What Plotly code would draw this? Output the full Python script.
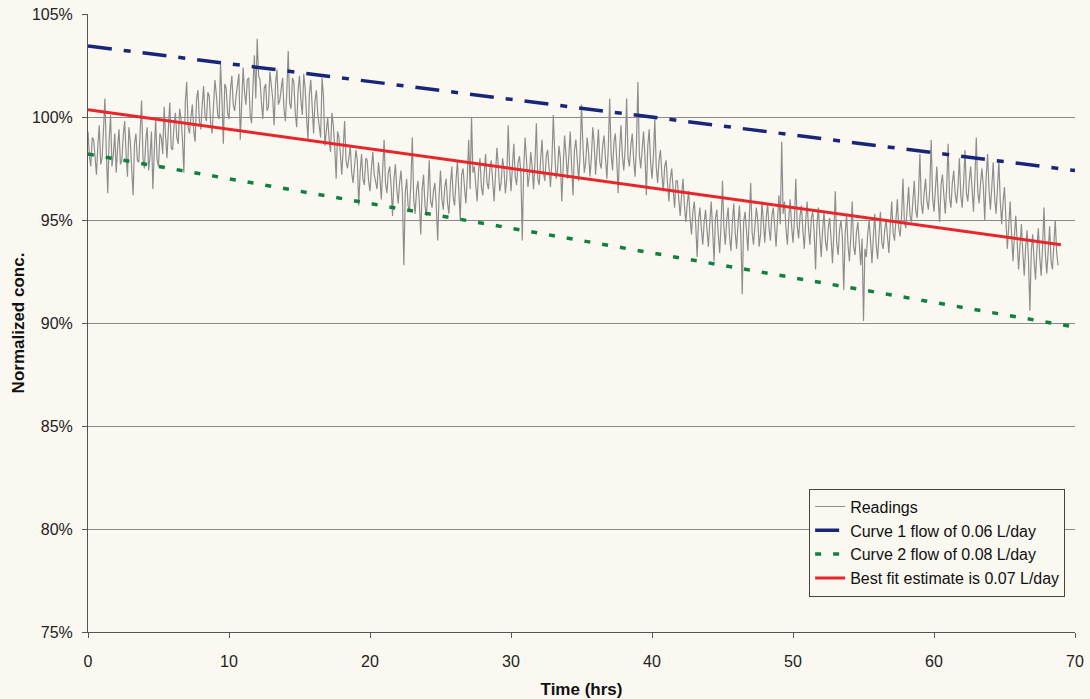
import plotly.graph_objects as go

# ---------------- data ----------------
reading_step = 0.2  # hours between readings (main samples at 0.0, 0.2, ...)
readings = [
    99.3, 97.6, 98.9, 97.2, 99.6, 98.0, 100.9, 96.3, 100.1, 98.2,
    97.3, 99.4, 97.9, 99.8, 97.1, 98.8, 96.2, 99.2, 97.8, 100.8,
    97.5, 99.5, 98.1, 96.5, 99.9, 97.6, 99.0, 100.5, 98.0, 100.7,
    98.4, 100.2, 98.7, 99.9, 97.3, 101.7, 99.2, 100.6, 98.8, 101.3,
    99.4, 101.5, 99.8, 101.0, 99.2, 101.8, 100.1, 102.6, 98.7, 101.4,
    99.9, 102.0, 100.3, 101.6, 98.9, 102.4, 100.6, 101.9, 99.7, 103.0,
    103.8, 101.8, 99.9, 101.6, 100.5, 101.5, 99.6, 102.3, 100.8, 101.9,
    99.8, 103.2, 100.4, 101.7, 99.5, 102.0, 100.1, 101.4, 98.9, 101.8,
    99.2, 101.3, 99.6, 101.9, 98.6, 100.0, 98.3, 99.6, 97.0, 99.0,
    97.2, 99.8, 97.5, 98.6, 96.8, 98.4, 95.7, 98.2, 96.7, 97.9,
    96.4, 98.3, 96.9, 97.8, 96.0, 98.9, 96.3, 97.6, 95.2, 97.7,
    95.8, 97.4, 92.8, 97.0, 95.4, 99.0, 95.3, 96.9, 94.3, 97.2,
    95.2, 97.9, 95.6, 96.8, 94.0, 97.4, 95.5, 97.0, 95.3, 97.6,
    95.7, 97.9, 95.0, 97.5, 95.8, 98.9, 100.0, 97.6, 95.9, 98.0,
    96.2, 98.2, 96.5, 97.9, 95.9, 98.5, 96.4, 98.0, 96.3, 99.6,
    96.4, 98.7, 96.7, 98.1, 94.0, 99.0, 96.6, 98.3, 96.5, 99.7,
    96.7, 98.9, 96.9, 98.4, 96.6, 100.1, 97.0, 98.6, 95.9, 99.1,
    97.0, 99.3, 96.2, 98.9, 96.9, 100.6, 97.3, 99.0, 97.1, 99.5,
    97.2, 99.4, 97.5, 99.1, 97.0, 100.9, 97.4, 99.2, 96.3, 99.6,
    97.4, 100.9, 97.6, 99.2, 97.1, 101.7, 97.5, 99.3, 96.2, 99.4,
    97.0, 99.9, 96.8, 98.4, 96.4, 97.9, 95.9, 97.5, 95.6, 96.9,
    95.2, 97.0, 94.9, 96.4, 94.3, 95.9, 93.2, 95.6, 93.8, 95.5,
    93.7, 95.9, 93.0, 95.5, 93.4, 96.9, 93.8, 95.6, 93.5, 95.8,
    93.6, 95.7, 91.4, 95.4, 93.5, 96.8, 93.8, 95.6, 93.7, 95.9,
    93.9, 95.8, 94.0, 95.6, 93.7, 96.2, 98.8, 95.9, 93.8, 96.0,
    93.9, 97.0, 94.1, 95.7, 93.6, 95.9, 93.8, 95.4, 92.6, 95.6,
    93.2, 95.4, 93.5, 95.1, 92.9, 96.4, 93.3, 95.0, 91.6, 95.3,
    93.0, 95.9, 93.3, 94.9, 92.8, 90.1, 93.2, 95.0, 92.9, 95.3,
    93.1, 95.4, 93.6, 95.0, 93.4, 95.9, 94.0, 96.0, 94.2, 97.0,
    94.6, 96.6, 94.9, 96.9, 95.1, 98.2, 95.3, 97.0, 95.5, 98.9,
    95.4, 97.6, 94.9, 97.2, 95.3, 98.7, 95.6, 97.4, 95.8, 98.0,
    95.6, 98.4, 95.9, 97.6, 95.4, 99.0, 95.8, 97.5, 95.0, 98.2,
    95.5, 97.8, 95.3, 97.9, 94.8, 96.6, 93.6, 95.9, 93.0, 95.2,
    92.6, 94.8, 92.3, 94.5, 90.6, 94.3, 92.1, 94.6, 92.3, 95.6,
    92.4, 94.7, 92.6, 95.0, 92.8,
]
# in-between samples at 0.1, 0.3, 0.5, ...
readings_mid = [
    98.1, 99.0, 97.8, 98.6, 97.7, 99.4, 98.3, 98.9, 97.6, 99.2,
    98.5, 97.7, 99.1, 98.2, 99.5, 97.5, 98.7, 97.9, 99.3, 98.0,
    98.9, 97.4, 99.3, 98.3, 97.9, 99.2, 98.2, 99.1, 99.4, 98.5,
    99.6, 99.0, 100.4, 98.9, 100.7, 99.5, 100.0, 99.3, 100.9, 99.8,
    100.6, 100.0, 101.2, 99.7, 100.5, 101.1, 99.9, 100.8, 101.6, 100.2,
    101.3, 100.6, 101.0, 102.1, 100.4, 101.2, 101.8, 100.1, 101.5, 100.9,
    102.0, 100.7, 101.4, 100.3, 102.2, 100.9, 101.6, 100.6, 101.3, 100.4,
    101.2, 100.7, 101.9, 100.2, 101.3, 100.8, 102.1, 100.0, 101.1, 100.5,
    100.8, 100.1, 99.0, 101.0, 99.4, 98.9, 100.2, 98.5, 99.3, 98.2,
    98.5, 97.9, 98.0, 97.3, 97.6, 97.9, 97.3, 97.0, 98.0, 96.9,
    97.5, 97.2, 96.5, 97.1, 97.4, 96.8, 97.3, 96.6, 97.0, 96.5,
    96.8, 96.2, 96.3, 95.7, 96.8, 96.0, 96.4, 95.8, 96.5, 95.7,
    96.3, 95.9, 96.4, 95.7, 96.2, 96.0, 96.6, 95.8, 96.7, 96.1,
    96.9, 96.4, 97.2, 96.6, 97.1, 96.5, 97.3, 96.7, 97.4, 96.6,
    97.3, 96.8, 97.5, 96.9, 97.2, 97.6, 96.8, 97.5, 97.0, 97.6,
    97.6, 97.1, 97.8, 97.3, 97.5, 97.9, 97.2, 97.6, 97.8, 97.0,
    97.9, 97.3, 98.1, 97.5, 97.8, 98.3, 97.4, 98.0, 97.6, 98.2,
    98.1, 97.6, 98.4, 97.9, 98.2, 98.6, 97.8, 98.3, 98.0, 98.7,
    98.3, 97.8, 98.6, 98.0, 98.5, 98.2, 98.8, 97.9, 98.4, 98.1,
    98.5, 98.0, 98.6, 97.9, 98.7, 98.2, 98.4, 98.1, 98.6, 97.8,
    98.1, 97.6, 97.9, 97.2, 97.6, 96.8, 97.0, 96.5, 96.9, 96.0,
    96.2, 95.7, 95.8, 95.1, 95.4, 94.8, 95.0, 94.6, 94.9, 94.5,
    94.9, 94.5, 95.1, 94.3, 94.8, 94.6, 95.0, 94.2, 94.9, 94.4,
    94.8, 94.3, 94.9, 94.5, 95.1, 94.4, 94.7, 95.0, 94.3, 94.9,
    95.1, 94.6, 95.2, 94.7, 95.0, 94.8, 95.3, 94.6, 95.1, 94.7,
    95.0, 94.7, 95.2, 94.5, 94.9, 94.6, 95.1, 94.4, 94.8, 94.3,
    94.5, 94.0, 94.6, 94.1, 94.4, 93.9, 94.5, 94.2, 94.3, 93.8,
    94.2, 93.7, 94.4, 93.9, 94.1, 93.6, 94.3, 94.0, 94.2, 93.8,
    94.3, 93.9, 94.5, 94.2, 94.7, 94.4, 95.0, 94.6, 95.2, 94.9,
    95.6, 95.2, 95.9, 95.5, 96.2, 95.8, 96.3, 95.9, 96.5, 96.1,
    96.5, 96.0, 96.7, 96.2, 96.6, 96.1, 96.8, 96.3, 96.6, 96.2,
    96.8, 96.3, 96.9, 96.5, 97.0, 96.4, 96.8, 96.6, 97.1, 96.5,
    96.6, 96.1, 96.5, 95.9, 95.9, 95.0, 94.7, 94.3, 94.2, 93.9,
    93.8, 93.4, 93.7, 93.1, 93.5, 93.0, 93.6, 93.2, 93.7, 93.3,
    93.5, 93.0, 93.8, 93.4,
]

reading_hours, reading_values = [], []
for i, v in enumerate(readings):
    reading_hours.append(round(i * reading_step, 1))
    reading_values.append(v)
    if i < len(readings_mid):
        reading_hours.append(round(i * reading_step + reading_step / 2, 2))
        reading_values.append(readings_mid[i])

curve_hours = [0, 10, 20, 30, 40, 50, 60, 70]
curve1 = [103.45, 102.59, 101.73, 100.86, 100.0, 99.14, 98.27, 97.4]
curve2 = [98.2, 97.0, 95.8, 94.6, 93.4, 92.2, 91.0, 89.8]

fit_hours = [0, 10, 20, 30, 40, 50, 60, 69]
best_fit = [100.35, 99.4, 98.45, 97.5, 96.55, 95.6, 94.65, 93.8]

x_ticks = [0, 10, 20, 30, 40, 50, 60, 70]
y_ticks = [75, 80, 85, 90, 95, 100, 105]
y_tick_labels = ["75%", "80%", "85%", "90%", "95%", "100%", "105%"]

names = ["Readings", "Curve 1 flow of 0.06 L/day",
         "Curve 2 flow of 0.08 L/day", "Best fit estimate is 0.07 L/day"]

# ---------------- figure ----------------
BG = "#faf8f1"
FONT = "Liberation Sans, Arial, sans-serif"

fig = go.Figure()
fig.add_trace(go.Scatter(x=reading_hours, y=reading_values, mode="lines", name=names[0],
                         line=dict(color="#8e8e8e", width=1.2)))
fig.add_trace(go.Scatter(x=curve_hours, y=curve1, mode="lines", name=names[1],
                         line=dict(color="#18267a", width=3.5, dash="24px,12px,7px,12px")))
fig.add_trace(go.Scatter(x=curve_hours, y=curve2, mode="lines", name=names[2],
                         line=dict(color="#0f8040", width=3.5, dash="6px,12px")))
fig.add_trace(go.Scatter(x=fit_hours, y=best_fit, mode="lines", name=names[3],
                         line=dict(color="#e8262a", width=3)))

fig.update_layout(
    width=1090, height=699,
    margin=dict(l=88, r=15, t=14, b=67),
    paper_bgcolor=BG, plot_bgcolor=BG,
    font=dict(family=FONT, size=16, color="#222"),
    showlegend=True,
    legend=dict(x=0.99, y=0.232, xanchor="right", yanchor="top",
                bgcolor=BG, bordercolor="#444", borderwidth=1,
                font=dict(family=FONT, size=16, color="#111"),
                tracegroupgap=0),
    xaxis=dict(range=[0, 70], tickvals=x_ticks, showgrid=False, zeroline=False,
               showline=True, linecolor="#555", linewidth=1,
               ticks="outside", ticklen=5, tickcolor="#555", ticklabelstandoff=10,
               automargin=False,
               tickfont=dict(size=16, color="#222"),
               title=dict(text="<b>Time (hrs)</b>", font=dict(size=17, color="#111"), standoff=13)),
    yaxis=dict(range=[75, 105], tickvals=y_ticks, ticktext=y_tick_labels,
               showgrid=True, gridcolor="#8a8a8a", gridwidth=1, zeroline=False,
               showline=True, linecolor="#555", linewidth=1,
               ticks="outside", ticklen=5, tickcolor="#555", ticklabelstandoff=6,
               automargin=False,
               tickfont=dict(size=16, color="#222"),
               title=dict(text="<b>Normalized conc.</b>", font=dict(size=17, color="#111"), standoff=2)),
)

fig.write_html("out.html")
